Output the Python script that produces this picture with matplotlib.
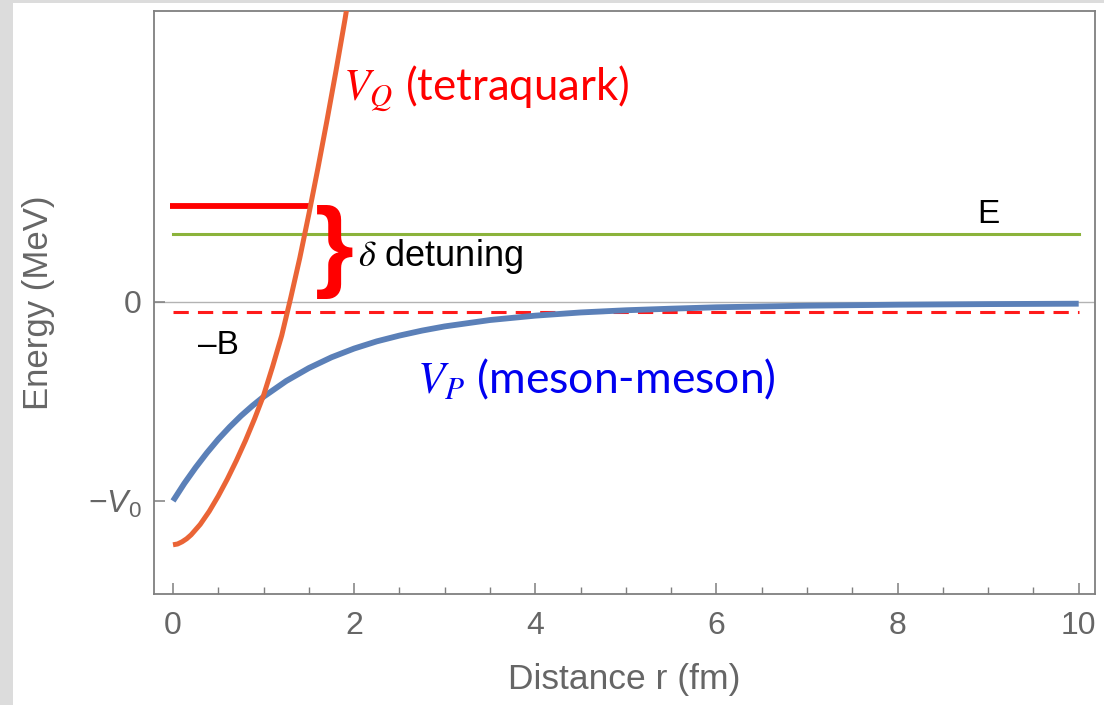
import matplotlib
matplotlib.use("Agg")
import matplotlib.pyplot as plt
from matplotlib.patches import Rectangle
from matplotlib.ticker import MultipleLocator

# Meson-meson potential V_P(r)
r_p = [0.0, 0.125, 0.25, 0.375, 0.5, 0.625, 0.75, 0.875, 1.0, 1.25, 1.5,
       1.75, 2.0, 2.25, 2.5, 2.75, 3.0, 3.5, 4.0, 4.5, 5.0, 5.5, 6.0, 7.0,
       8.0, 9.0, 10.0]
v_p = [-1.0, -0.912, -0.832, -0.758, -0.69, -0.629, -0.573, -0.523, -0.477,
       -0.398, -0.333, -0.279, -0.235, -0.199, -0.170, -0.145, -0.124,
       -0.092, -0.070, -0.054, -0.043, -0.035, -0.028, -0.020, -0.015,
       -0.012, -0.010]

# Tetraquark potential V_Q(r)
r_q = [0.0, 0.05, 0.1, 0.15, 0.2, 0.3, 0.4, 0.5, 0.6, 0.7, 0.8, 0.9, 1.0,
       1.1, 1.2, 1.3, 1.4, 1.5, 1.6, 1.7, 1.8, 1.9, 2.0]
v_q = [-1.22, -1.216, -1.205, -1.19, -1.17, -1.118, -1.052, -0.975, -0.89,
       -0.797, -0.697, -0.588, -0.47, -0.325, -0.17, 0.02, 0.22, 0.44, 0.67,
       0.91, 1.16, 1.42, 1.70]

# Levels
E_level = 0.338        # scattering energy E
B_level = -0.053       # bound state -B
Q_level = 0.482        # bare tetraquark level
Q_end = 1.52
r_max = 10.0

x_ticks = [0, 2, 4, 6, 8, 10]
y_ticks = [-1.0, 0.0]
y_ticklabels = [r"$-V_0$", "0"]

plt.rcParams["mathtext.fontset"] = "custom"
plt.rcParams["mathtext.rm"] = "Liberation Sans"
plt.rcParams["mathtext.it"] = "Liberation Sans:italic"

W, H = 1104, 705
fig = plt.figure(figsize=(W / 100, H / 100), dpi=100, facecolor="#dcdcdc")
# white card behind the plot
fig.patches.append(Rectangle((13 / W, 0), 1, 1 - 3 / H, transform=fig.transFigure,
                             facecolor="white", edgecolor="none", zorder=-5))

ax = fig.add_axes([154 / W, 1 - 594 / H, (1095 - 154) / W, (594 - 11) / H])
ax.set_facecolor("white")
ax.set_xlim(-0.21, 10.18)
ax.set_ylim(-1.467, 1.459)

axis_gray = "#666666"
for sp in ax.spines.values():
    sp.set_color("#7f7f7f")
    sp.set_linewidth(1.3)

ax.xaxis.set_minor_locator(MultipleLocator(0.5))
ax.set_xticks(x_ticks)
ax.set_yticks(y_ticks)
ax.set_yticklabels(y_ticklabels)
ax.tick_params(axis="both", which="major", direction="in", length=8,
               width=1.1, color="#7f7f7f", labelsize=23, labelcolor=axis_gray)
ax.tick_params(axis="x", which="major", pad=12)
ax.tick_params(axis="y", which="major", pad=9)
ax.tick_params(axis="x", which="minor", direction="in", length=5, width=1.0,
               color="#7f7f7f")
for lbl in ax.get_xticklabels() + ax.get_yticklabels():
    lbl.set_fontfamily("Liberation Sans")

ax.set_xlabel("Distance r (fm)", fontsize=25.5, color=axis_gray,
              family="Liberation Sans", labelpad=16)
ax.set_ylabel("Energy (MeV)", fontsize=25, color=axis_gray,
              family="Liberation Sans", labelpad=24)

# zero line
ax.axhline(0.0, color="#b3b3b3", lw=1.0, zorder=1)

# potential curves
ax.plot(r_p, v_p, color="#5b80b8", lw=4.2, solid_capstyle="butt", zorder=3)
ax.plot(r_q, v_q, color="#ea6436", lw=3.6, solid_capstyle="butt", zorder=4)

# energy levels
ax.plot([0, r_max], [E_level, E_level], color="#8bb33b", lw=2.2, zorder=2)
ax.plot([0, r_max], [B_level, B_level], color="#ff1a1a", lw=2.2,
        linestyle=(0, (5.0, 3.0)), zorder=2)
ax.plot([-0.03, Q_end], [Q_level, Q_level], color="#ff0000", lw=4.2,
        solid_capstyle="butt", zorder=3)

# detuning brace
ax.text(1.78, 0.25, "}", color="#ff0000", fontsize=72, fontweight="bold",
        family="Liberation Sans", ha="center", va="center", zorder=5)

# annotations
ax.text(1.875, 1.07, r"$V_Q$ (tetraquark)", color="#ff0000", fontsize=31.5,
        family="Lato", math_fontfamily="stix", ha="left", va="center")
ax.text(2.69, -0.39, r"$V_P$ (meson-meson)", color="#0000f0", fontsize=32,
        family="Lato", math_fontfamily="stix", ha="left", va="center")
ax.text(2.04, 0.225, r"$\delta$ detuning", color="black", fontsize=26,
        family="Liberation Sans", math_fontfamily="stix", ha="left",
        va="center")
ax.text(9.0, 0.44, "E", color="black", fontsize=24, family="Liberation Sans",
        ha="center", va="center")
ax.text(0.505, -0.222, "\u2013B", color="black", fontsize=24,
        family="Liberation Sans", ha="center", va="center")

fig.savefig("out.png", dpi=100, facecolor=fig.get_facecolor())
